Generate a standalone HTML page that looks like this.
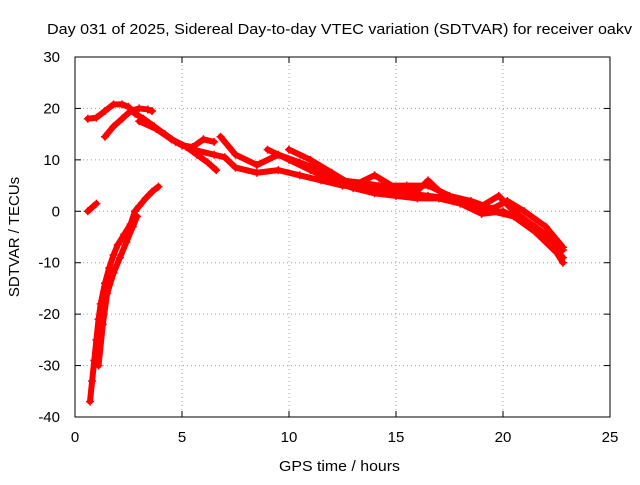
<!DOCTYPE html>
<html><head><meta charset="utf-8"><style>
body{margin:0;background:#fff}
svg{font-family:"Liberation Sans",sans-serif;font-size:15px}
</style></head><body>
<svg width="640" height="480">
<rect width="640" height="480" fill="#fff"/>
<text x="47" y="34" textLength="585" lengthAdjust="spacingAndGlyphs">Day 031 of 2025, Sidereal Day-to-day VTEC variation (SDTVAR) for receiver oakv</text>
<g id="grid"></g>
<g id="axes"></g>
<g id="series"></g>
<text x="279" y="471" textLength="121" lengthAdjust="spacingAndGlyphs">GPS time / hours</text>
<text transform="translate(19,237) rotate(-90)" text-anchor="middle">SDTVAR / TECUs</text>
</svg>
<script>
const xTicks=[0,5,10,15,20,25];
const yTicks=[-40,-30,-20,-10,0,10,20,30];
const trackA=[[0.7,-37],[0.8,-33],[0.9,-29],[1.0,-25],[1.1,-21],[1.2,-18],[1.4,-14],[1.6,-11],[1.8,-8.5],[2.0,-6.5],[2.3,-4.5],[2.6,-2.5],[2.8,0],[3.0,1],[3.3,2.5],[3.6,3.8],[3.9,4.8]];
const trackA2=[[1.1,-30],[1.3,-22],[1.5,-16],[1.8,-12],[2.1,-9],[2.4,-6],[2.7,-3],[2.9,-1]];
const trackS=[[0.6,0],[1.0,1.5]];
const trackB=[[0.6,18],[1.0,18.2],[1.4,19.5],[1.8,20.8],[2.2,20.8],[2.5,20.3],[2.8,19],[3.2,18],[3.7,16.5],[4.2,15],[4.7,13.5],[5.2,12.5],[5.7,11],[6.2,9.5],[6.6,8]];
const trackC=[[1.4,14.5],[1.8,16.5],[2.2,18],[2.6,19.5],[3.0,20],[3.4,19.8],[3.6,19.5]];
const trackD=[[3,17.5],[3.8,16],[4.5,14],[5,12.8],[5.5,12.5],[6,14],[6.5,13.5]];
const trackE=[[4.5,14],[5.5,12],[6.5,11],[7,10.5],[7.5,8.5],[8.5,7.5],[9.5,8],[10.5,7],[11.5,6],[12.5,5],[13.5,4.5],[14.5,4],[15.5,3.5],[16.5,3],[17.5,2.5],[18.5,1],[19.5,0],[20.5,-1],[21.5,-4],[22.5,-8],[22.8,-10]];
const trackF=[[6.8,14.5],[7.5,11],[8.5,9],[9.5,11],[10.5,9.5],[11.5,8],[12.5,6],[13.5,5.5],[14.2,5],[15.5,5],[16.5,5],[17.5,3],[18.5,2],[19.5,0.5],[20.2,2],[21,0],[22,-3],[22.8,-7]];
const trackG=[[9,12],[10,10],[11,8],[12,6],[13,4.5],[14,3.5],[15,3],[16,2.5],[17,2.5],[18,1.5],[19,-0.5],[20,0],[21,-2],[22,-5],[22.8,-9]];
const trackH=[[10,12],[11,10],[12,7.5],[13,5],[14,7],[15,4.5],[16,4],[16.5,6],[17,4],[18,2],[19,1],[19.8,3],[20.5,0],[21.5,-3],[22.5,-6],[22.8,-7.5]];
const tracks=[trackA,trackA2,trackS,trackB,trackC,trackD,trackE,trackF,trackG,trackH];
const X0=75,X1=610,Y0=417,Y1=57;
const sx=v=>X0+(v-0)/(25-0)*(X1-X0);
const sy=v=>Y0-(v+40)/(70)*(Y0-Y1);
const NS="http://www.w3.org/2000/svg";
function mk(t,a,p){const e=document.createElementNS(NS,t);for(const k in a)e.setAttribute(k,a[k]);p.appendChild(e);return e;}
const grid=document.getElementById('grid'),axes=document.getElementById('axes'),ser=document.getElementById('series');
xTicks.forEach(t=>{const x=sx(t);
 if(t>0&&t<25){const g=mk('line',{x1:x,x2:x,y1:Y1,y2:Y0,stroke:'#a0a0a0','stroke-dasharray':'1,3'},grid);
 
 }
 mk('line',{x1:x,x2:x,y1:Y0,y2:Y0-6,stroke:'#000'},axes);
 mk('line',{x1:x,x2:x,y1:Y1,y2:Y1+6,stroke:'#000'},axes);
 const l=mk('text',{x:x,y:Y0+25,'text-anchor':'middle'},axes);l.textContent=t;
 
 });
yTicks.forEach(t=>{const y=sy(t);
 if(t>-40&&t<30){const g=mk('line',{x1:X0,x2:X1,y1:y,y2:y,stroke:'#a0a0a0','stroke-dasharray':'1,3'},grid);
 
 }
 mk('line',{x1:X0,x2:X0+6,y1:y,y2:y,stroke:'#000'},axes);
 mk('line',{x1:X1,x2:X1-6,y1:y,y2:y,stroke:'#000'},axes);
 const l=mk('text',{x:X0-15,y:y+5,'text-anchor':'end'},axes);l.textContent=t;
 
 });
mk('rect',{x:X0,y:Y1,width:X1-X0,height:Y0-Y1,fill:'none',stroke:'#000'},axes);
tracks.forEach(tr=>{
 const pl=mk('polyline',{points:tr.map(p=>sx(p[0])+','+sy(p[1])).join(' '),fill:'none',stroke:'#ff0000','stroke-width':6,'stroke-linejoin':'round','stroke-linecap':'round'},ser);
 
 
 tr.forEach(p=>{const x=sx(p[0]),y=sy(p[1]);
  const m=mk('path',{d:`M${x-4},${y}H${x+4}M${x},${y-4}V${y+4}`,stroke:'#ff0000','stroke-width':1.5},ser);
  
  });
});
</script>
</body></html>
